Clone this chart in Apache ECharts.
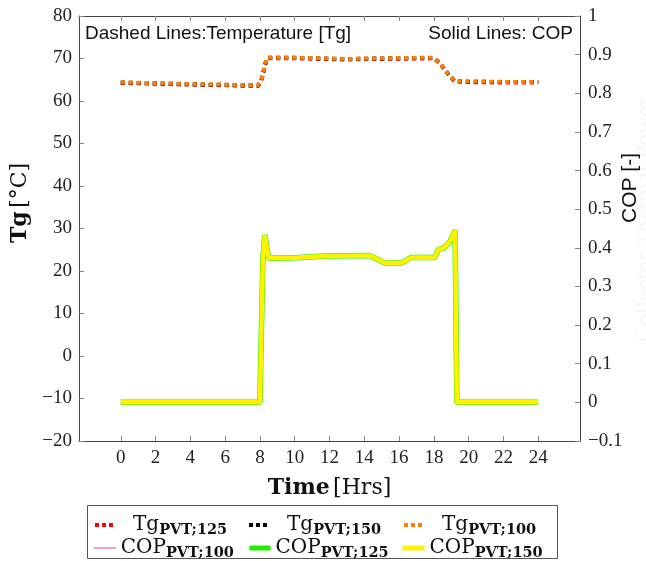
<!DOCTYPE html>
<html>
<head>
<meta charset="utf-8">
<script src="https://cdn.jsdelivr.net/npm/echarts@6/dist/echarts.min.js"></script>
<style>
  html, body { margin: 0; padding: 0; background: #fff; }
  #chart { width: 646px; height: 561px; }
</style>
</head>
<body>
<div id="chart"></div>
<script>
// x ticks (hours)
const xTicks = [0, 2, 4, 6, 8, 10, 12, 14, 16, 18, 20, 22, 24];

// temperature series (left axis)
const tgHours = [0, 1, 2, 3, 4, 5, 6, 7, 7.9, 8.08, 8.2, 8.3, 8.4, 10, 12, 13, 14, 16, 18, 18.35, 18.65, 18.9, 19.2, 20, 22, 24];
const tg125 = [64.25, 64.15, 64.05, 63.95, 63.85, 63.75, 63.7, 63.6, 63.55, 64.8, 66.7, 68.5, 70.05, 70.05, 69.85, 69.75, 69.85, 69.95, 70.05, 68.8, 67.2, 65.9, 64.6, 64.45, 64.35, 64.35];
const tg150 = [64.35, 64.25, 64.15, 64.05, 63.95, 63.85, 63.8, 63.7, 63.65, 64.9, 66.8, 68.6, 70.15, 70.15, 69.95, 69.85, 69.95, 70.05, 70.15, 68.9, 67.3, 66.0, 64.7, 64.55, 64.45, 64.45];
const tg100 = [64.4, 64.3, 64.2, 64.1, 64.0, 63.9, 63.85, 63.75, 63.7, 64.9, 66.8, 68.6, 70.2, 70.2, 70.0, 69.9, 70.0, 70.1, 70.2, 68.9, 67.3, 66.0, 64.7, 64.6, 64.5, 64.5];

// COP series (right axis)
const copHours = [0, 2, 4, 6, 8.0, 8.17, 8.28, 8.5, 10, 11.84, 14.3, 15.2, 16.15, 16.7, 18.05, 18.25, 18.55, 18.92, 19.22, 19.32, 20, 22, 24];
const cop100 = [0, 0, 0, 0, 0, 0.370, 0.433, 0.373, 0.374, 0.379, 0.380, 0.361, 0.361, 0.375, 0.375, 0.396, 0.399, 0.416, 0.446, 0, 0, 0, 0];
const cop125 = [0, 0, 0, 0, 0, 0.370, 0.433, 0.373, 0.374, 0.379, 0.380, 0.361, 0.361, 0.375, 0.375, 0.396, 0.399, 0.416, 0.446, 0, 0, 0, 0];
const cop150 = [0, 0, 0, 0, 0, 0.370, 0.433, 0.373, 0.374, 0.379, 0.380, 0.361, 0.361, 0.375, 0.375, 0.396, 0.399, 0.416, 0.446, 0, 0, 0, 0];

// legend entries: name, column x, row y, icon width, icon line style, text gap
const legendNames = ['Tg_PVT;125', 'Tg_PVT;150', 'Tg_PVT;100', 'COP_PVT;100', 'COP_PVT;125', 'COP_PVT;150'];

const zip = (xs, ys) => xs.map((x, i) => [x, ys[i]]);

const serif = 'Liberation Serif';
const titleSerif = 'DejaVu Serif';
const axisColor = '#444';

const legendFormatter = (name) => {
  const parts = name.split('_');
  return '{m|' + parts[0] + '}{s|' + parts[1] + '}';
};

// one legend box per entry so that the 3x2 grid lines up like the original
const makeLegend = (name, left, top, iconW, lineStyle, padLeft) => ({
  data: [{ name: name, lineStyle: lineStyle }],
  left: left - 5, top: top,
  itemWidth: iconW, itemHeight: 10, itemGap: 0,
  itemStyle: { opacity: 0, borderWidth: 0 },
  formatter: legendFormatter,
  textStyle: {
    rich: {
      m: { fontFamily: titleSerif, fontSize: 20, color: '#111', padding: [0, 0, 0, padLeft] },
      s: { fontFamily: titleSerif, fontSize: 14.5, fontWeight: 'bold', color: '#111', padding: [11, 0, 0, 0] }
    }
  }
});

const dots = { type: [4, 3], width: 4 };

const chart = echarts.init(document.getElementById('chart'), null, { renderer: 'canvas' });

const xAxisBase = {
  type: 'value', min: -2.4, max: 26.4,
  axisLine: { show: true, onZero: false, lineStyle: { color: axisColor, width: 1 } },
  axisTick: { show: true, inside: true, length: 5, customValues: xTicks, lineStyle: { color: '#888' } },
  splitLine: { show: false }
};

const option = {
  animation: false,
  backgroundColor: '#fff',
  grid: { left: 79, right: 66, top: 16, bottom: 120 },
  xAxis: [
    Object.assign({}, xAxisBase, {
      position: 'bottom',
      axisLabel: { customValues: xTicks, margin: 8, fontFamily: serif, fontSize: 19, color: '#222' },
      name: '{b|Time} {r|[Hrs]}',
      nameLocation: 'middle',
      nameGap: 36,
      nameTextStyle: {
        rich: {
          b: { fontFamily: titleSerif, fontSize: 22, fontWeight: 'bold', color: '#111' },
          r: { fontFamily: titleSerif, fontSize: 22, color: '#111' }
        }
      }
    }),
    Object.assign({}, xAxisBase, {
      position: 'top',
      axisLabel: { show: false }
    })
  ],
  yAxis: [
    {
      type: 'value', position: 'left', min: -20, max: 80, interval: 10,
      axisLine: { show: true, onZero: false, lineStyle: { color: axisColor, width: 1 } },
      axisTick: { show: true, inside: true, length: 5, lineStyle: { color: '#888' } },
      axisLabel: {
        margin: 7, fontFamily: serif, fontSize: 19, color: '#222',
        formatter: (v) => String(v).replace('-', '\u2212')
      },
      splitLine: { show: false }
    },
    {
      type: 'value', position: 'right', min: -0.1, max: 1, interval: 0.1,
      axisLine: { show: true, onZero: false, lineStyle: { color: axisColor, width: 1 } },
      axisTick: { show: true, inside: true, length: 5, lineStyle: { color: '#888' } },
      axisLabel: {
        margin: 8, fontFamily: serif, fontSize: 19, color: '#222',
        formatter: (v) => String(+v.toFixed(1)).replace('-', '\u2212')
      },
      splitLine: { show: false }
    }
  ],
  legend: [
    makeLegend(legendNames[0], 93, 510, 19, dots, 14),
    makeLegend(legendNames[1], 247, 510, 19, dots, 14),
    makeLegend(legendNames[2], 402, 510, 19, dots, 14),
    makeLegend(legendNames[3], 93, 533, 22, { width: 1.5 }, 0),
    makeLegend(legendNames[4], 247, 533, 21, { width: 5 }, 0),
    makeLegend(legendNames[5], 400, 533, 22, { width: 5 }, 0)
  ],
  series: [
    {
      name: legendNames[0], type: 'line', xAxisIndex: 0, yAxisIndex: 0, symbol: 'none',
      data: zip(tgHours, tg125),
      lineStyle: { color: '#ff0000', width: 4, type: [4, 4], cap: 'butt' },
      itemStyle: { color: '#ff0000' }
    },
    {
      name: legendNames[1], type: 'line', xAxisIndex: 0, yAxisIndex: 0, symbol: 'none',
      data: zip(tgHours, tg150),
      lineStyle: { color: '#000000', width: 4, type: [4, 4], cap: 'butt' },
      itemStyle: { color: '#000000' }
    },
    {
      name: legendNames[2], type: 'line', xAxisIndex: 0, yAxisIndex: 0, symbol: 'none',
      data: zip(tgHours, tg100),
      lineStyle: { color: '#ff8000', width: 4, type: [4, 4], cap: 'butt' },
      itemStyle: { color: '#ff8000' }
    },
    {
      name: legendNames[3], type: 'line', xAxisIndex: 0, yAxisIndex: 1, symbol: 'none',
      data: zip(copHours, cop100),
      lineStyle: { color: '#ee7fc0', width: 1.5 },
      itemStyle: { color: '#ee7fc0' }
    },
    {
      name: legendNames[4], type: 'line', xAxisIndex: 0, yAxisIndex: 1, symbol: 'none',
      data: zip(copHours, cop125),
      lineStyle: { color: '#22ee00', width: 5.5 },
      itemStyle: { color: '#22ee00' }
    },
    {
      name: legendNames[5], type: 'line', xAxisIndex: 0, yAxisIndex: 1, symbol: 'none',
      data: zip(copHours, cop150),
      lineStyle: { color: '#fff200', width: 4.5 },
      itemStyle: { color: '#fff200' }
    }
  ],
  graphic: [
    {
      type: 'text', left: 85, top: 24, z: 10,
      style: { text: 'Dashed Lines:Temperature [Tg]', font: '19px "Liberation Sans"', fill: '#111' }
    },
    {
      type: 'text', right: 73, top: 24, z: 10,
      style: { text: 'Solid Lines: COP', font: '19px "Liberation Sans"', fill: '#111' }
    },
    {
      type: 'text', x: 20, y: 203, rotation: Math.PI / 2, z: 10,
      style: {
        text: '{b|Tg} {r|[°C]}', align: 'center', verticalAlign: 'middle',
        rich: {
          b: { fontFamily: titleSerif, fontSize: 22, fontWeight: 'bold', fill: '#111' },
          r: { fontFamily: titleSerif, fontSize: 22, fill: '#111' }
        }
      }
    },
    {
      type: 'text', x: 630, y: 188, rotation: Math.PI / 2, z: 10,
      style: { text: 'COP [-]', align: 'center', verticalAlign: 'middle', font: '21px "Liberation Sans"', fill: '#111' }
    },
    {
      type: 'text', x: 645, y: 220, rotation: Math.PI / 2, z: 1,
      style: { text: 'Collector Thermal Power', align: 'center', verticalAlign: 'middle', font: '24px "Liberation Serif"', fill: '#f6f6f6' }
    },
    {
      type: 'rect', z: 0,
      shape: { x: 87.5, y: 505.5, width: 470, height: 53 },
      style: { fill: 'none', stroke: '#555', lineWidth: 1 }
    }
  ]
};

chart.setOption(option);
</script>
</body>
</html>
